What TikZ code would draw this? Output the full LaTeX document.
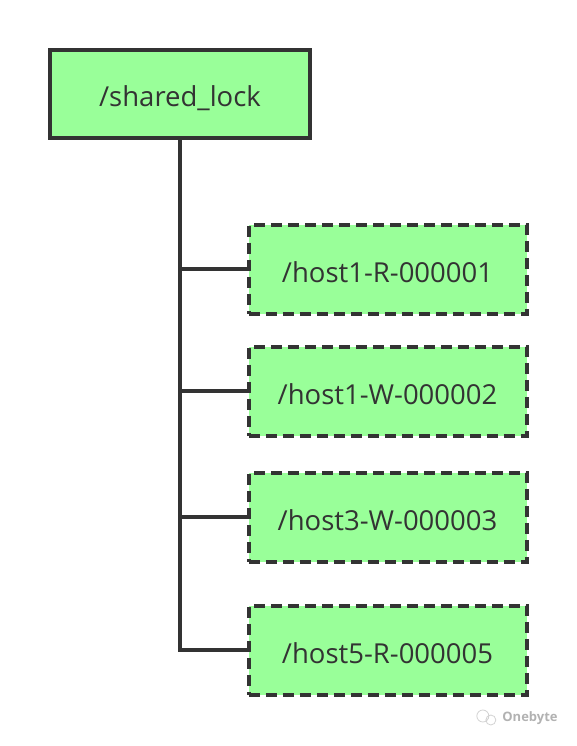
\documentclass[tikz,border=0pt]{standalone}
\usepackage{fontspec}
\setmainfont{Open Sans}
\usetikzlibrary{positioning,calc}
\definecolor{lockgreen}{HTML}{99FF99}
\definecolor{lockgray}{HTML}{333333}
\tikzset{
  rootbox/.style={draw=lockgray, fill=lockgreen, line width=4pt,
    minimum width=260pt, minimum height=88pt, text=lockgray,
    text height=26pt, text depth=0pt,
    font=\fontsize{27.5}{31}\selectfont},
  hostbox/.style={draw=lockgray, fill=lockgreen, line width=4pt,
    dash pattern=on 11pt off 6pt, minimum width=278pt, minimum height=89pt,
    text=lockgray, text height=26pt, text depth=0pt,
    font=\fontsize{27.5}{31}\selectfont},
  conn/.style={draw=lockgray, line width=3.5pt}
}
\begin{document}
\begin{tikzpicture}[x=1pt,y=-1pt]
  \useasboundingbox (0,0) rectangle (577,746);

  \node[rootbox] (root) at (180,94) {/shared\_lock};
  \node[hostbox] (h1) at (387.5,269) {/host1-R-000001};
  \node[hostbox] (h2) at (387.5,391) {/host1-W-000002};
  \node[hostbox] (h3) at (387.5,517) {/host3-W-000003};
  \node[hostbox] (h4) at (387.5,650) {/host5-R-000005};

  \draw[conn] (root.south) |- (h4.west);
  \draw[conn] (root.south |- h1.west) -- (h1.west);
  \draw[conn] (root.south |- h2.west) -- (h2.west);
  \draw[conn] (root.south |- h3.west) -- (h3.west);

  % watermark
  \node[text=gray!60, font=\fontsize{13}{15}\selectfont\bfseries] (mark) at (530,718) {Onebyte};
  \draw[gray!35, line width=0.8pt] ($(mark.west)+(-16,-2)$) circle (6) ($(mark.west)+(-8,2)$) circle (5);
\end{tikzpicture}
\end{document}
